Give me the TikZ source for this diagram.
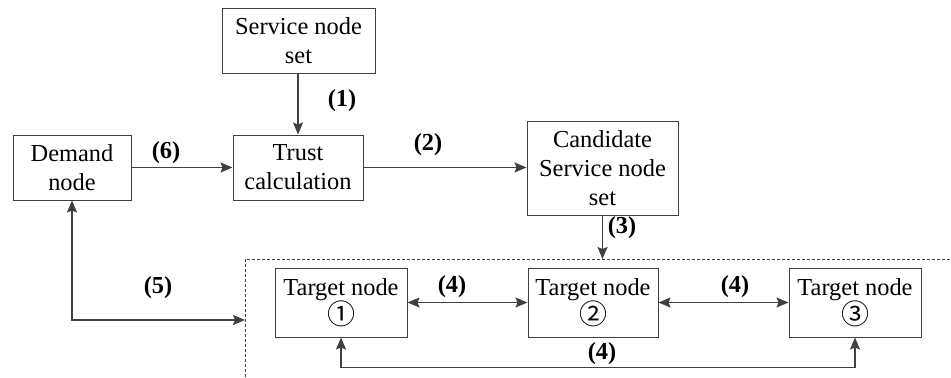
\documentclass[tikz,border=0pt]{standalone}
\usepackage{fontspec}
\setmainfont{Liberation Serif}
\newfontfamily\circfont{Noto Sans CJK SC}
\usetikzlibrary{arrows.meta}

\definecolor{linegray}{HTML}{404040}
\tikzset{
    box/.style={rectangle, draw=linegray, line width=0.5pt, align=center, inner sep=0pt,
        font=\rmfamily\fontsize{12.2}{14.5}\selectfont},
    conn/.style={draw=linegray, line width=0.7pt, -{Stealth[length=6pt,width=5pt,inset=1pt]}},
    biconn/.style={conn, {Stealth[length=6pt,width=5pt,inset=1pt]}-{Stealth[length=6pt,width=5pt,inset=1pt]}},
    lbl/.style={font=\rmfamily\fontsize{12.2}{14.5}\selectfont\bfseries}
}
\newcommand{\circnum}[1]{{\circfont\fontsize{14}{14.5}\selectfont #1}}

\begin{document}
\begin{tikzpicture}[x=0.5pt, y=-0.5pt]
            \useasboundingbox (0, 0) rectangle (951, 377);

            \node[box, minimum width=76.5pt, minimum height=32.5pt] (svc) at (298.5, 40.5) {Service node\\set};
            \node[box, minimum width=59pt, minimum height=32.5pt] (demand) at (72, 167.5) {Demand\\node};
            \node[box, minimum width=65pt, minimum height=32.5pt] (trust) at (298, 167.5) {Trust\\calculation};
            \node[box, minimum width=75.5pt, minimum height=47pt] (cand) at (602.5, 168) {Candidate\\Service node\\set};

            \node[box, minimum width=66pt, minimum height=34.5pt] (t1) at (341, 302.5) {Target node\\\circnum{①}};
            \node[box, minimum width=65pt, minimum height=34.5pt] (t2) at (593, 302.5) {Target node\\\circnum{②}};
            \node[box, minimum width=66pt, minimum height=34.5pt] (t3) at (855, 302.5) {Target node\\\circnum{③}};

            \coordinate (grp) at (245, 259);
            \coordinate (grpin) at (245, 320);
            \draw[linegray, line width=0.4pt, dash pattern=on 1.5pt off 1pt] (245, 377) -- (grp) -- (951, 259);

            \draw[conn] (svc.south -| trust.north) -- (trust.north);
            \draw[conn] (demand.east) -- (trust.west);
            \draw[conn] (trust.east) -- (trust.east -| cand.west);
            \draw[conn] (cand.south) -- (cand.south |- grp);
            \draw[biconn] (demand.south) |- (grpin);
            \draw[biconn] (t1.east) -- (t2.west);
            \draw[biconn] (t2.east) -- (t3.west);
            \draw[biconn] (t1.south) -- ++(0, 30) -| (t3.south);

            \node[lbl] (l1) at (342, 101) {(1)};
            \node[lbl] (l6) at (166, 153) {(6)};
            \node[lbl] (l2) at (428, 145) {(2)};
            \node[lbl] (l3) at (622, 228) {(3)};
            \node[lbl] (l5) at (158, 288) {(5)};
            \node[lbl] (l4a) at (452, 287) {(4)};
            \node[lbl] (l4b) at (735, 287) {(4)};
            \node[lbl] (l4c) at (602, 354) {(4)};
\end{tikzpicture}
\end{document}
